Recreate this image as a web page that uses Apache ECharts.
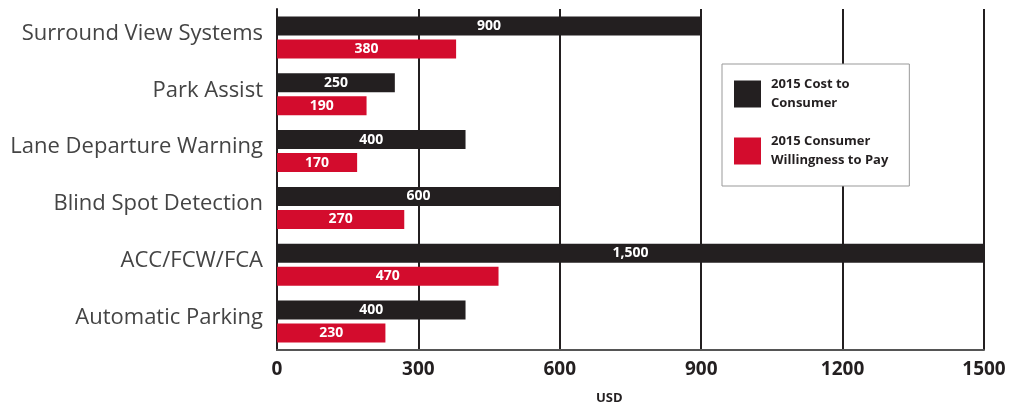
<!DOCTYPE html>
<html><head><meta charset="utf-8">
<script src="https://cdn.jsdelivr.net/npm/echarts@6/dist/echarts.min.js"></script>
<style>html,body{margin:0;padding:0;background:#fff}#c{width:1010px;height:411px}</style>
</head><body><div id="c"></div>
<script>
const categories = ['Surround View Systems','Park Assist','Lane Departure Warning','Blind Spot Detection','ACC/FCW/FCA','Automatic Parking'];
const costToConsumer = [900,250,400,600,1500,400];
const willingnessToPay = [380,190,170,270,470,230];
const seriesNames = ['2015 Cost to\nConsumer','2015 Consumer\nWillingness to Pay'];
const xTicks = [0,300,600,900,1200,1500];

const chart = echarts.init(document.getElementById('c'));
const fmt = p => p.value.toLocaleString('en-US');
const F = "'Open Sans'";
const lbl = {show:true, position:'inside', color:'#fff', fontFamily:F, fontWeight:'bold', fontSize:14, formatter:fmt};
chart.setOption({
  animation:false,
  grid:{left:277, right:26, top:9, bottom:61},
  legend:{
    orient:'vertical', left:722, top:64, width:201, height:122,
    padding:[11,21,16,12], itemWidth:27, itemHeight:27, itemGap:19,
    borderColor:'#999', borderWidth:1, backgroundColor:'#fff',
    icon:'rect',
    textStyle:{fontFamily:F, fontWeight:'bold', fontSize:13, color:'#231f20', lineHeight:19, padding:[0,0,0,5]},
    data:seriesNames
  },
  xAxis:{
    type:'value', min:0, max:1500, interval:300,
    axisLine:{show:true, lineStyle:{color:'#555', width:2}},
    axisTick:{show:false},
    splitLine:{show:true, lineStyle:{color:'#231f20', width:2}},
    axisLabel:{margin:10, fontFamily:F, fontWeight:'bold', fontSize:19, color:'#231f20',
      formatter:v => xTicks.includes(v) ? String(v) : ''}
  },
  yAxis:{
    type:'category', inverse:true, data:categories,
    axisLine:{show:true, lineStyle:{color:'#231f20', width:2}},
    axisTick:{show:false},
    axisLabel:{margin:14, formatter:v => '{a|' + v + '}',
      rich:{a:{fontFamily:F, fontSize:22, color:'#444', padding:[0,0,8,0]}}}
  },
  graphic:[{type:'text', left:596, top:392, style:{text:'USD', fontFamily:F, fontWeight:'bold', fontSize:13, fill:'#231f20'}}],
  series:[
    {name:seriesNames[0], type:'bar', data:costToConsumer, barWidth:19, barGap:'21%', itemStyle:{color:'#231f20'}, label:lbl},
    {name:seriesNames[1], type:'bar', data:willingnessToPay, barWidth:19, itemStyle:{color:'#d30c2d'}, label:lbl}
  ]
});
</script></body></html>
